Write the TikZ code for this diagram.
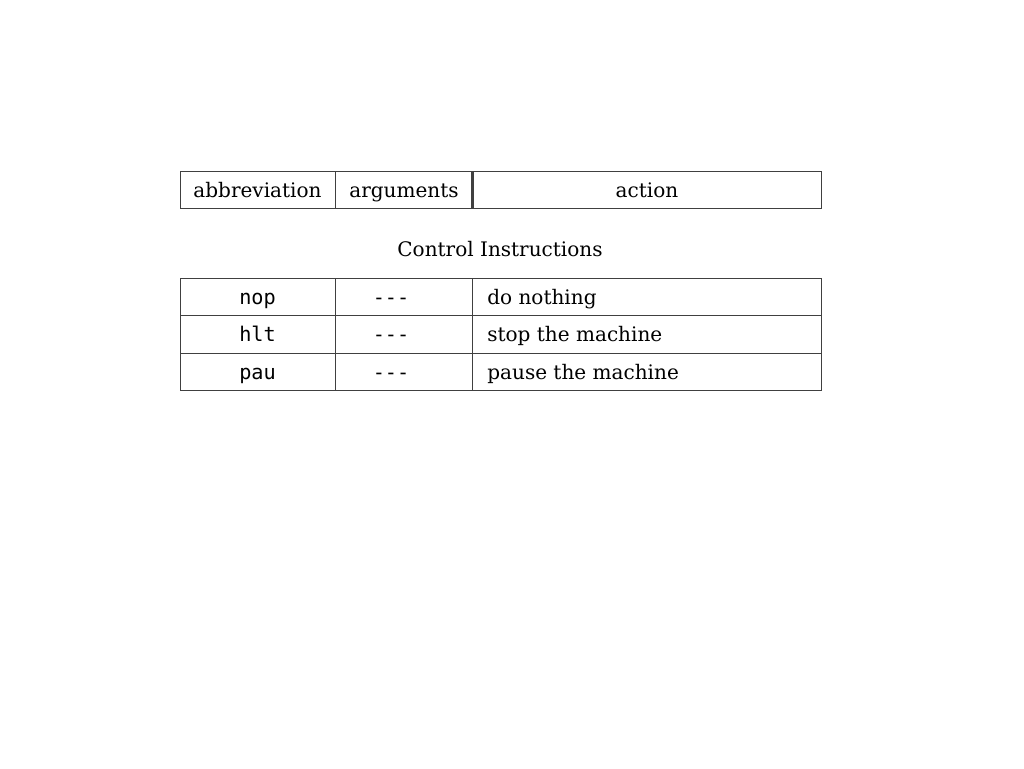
\documentclass[tikz,border=0pt]{standalone}
\usepackage{fontspec}
\setmainfont{DejaVu Serif}
\setmonofont{DejaVu Sans Mono}
\usepackage{tikz}

\begin{document}
\begin{tikzpicture}[x=0.02cm,y=-0.02cm,
    rule/.style={draw=black!75,line width=0.5pt},
    txt/.style={anchor=base,inner sep=0pt,font=\fontsize{11.4}{13}\selectfont},
    code/.style={anchor=base,inner sep=0pt,font=\fontsize{11.5}{13}\selectfont\ttfamily}]
            % page frame
            \useasboundingbox (0,0) rectangle (1024,768);
            % header table
            \draw[rule] (180,171) rectangle (821,208);
            \draw[rule] (335,171) -- (335,208);
            \draw[rule,line width=1.3pt] (472.5,171) -- (472.5,208);
            \node[txt] (abbr) at (257.5,197) {abbreviation};
            \node[txt] (args) at (404,197) {arguments};
            \node[txt] (action) at (647,197) {action};
            % caption
            \node[txt] (ctrl) at (500,256) {Control Instructions};
            % instruction table
            \draw[rule] (180,278) rectangle (821,390);
            \draw[rule] (180,315.5) -- (821,315.5);
            \draw[rule] (180,353) -- (821,353);
            \draw[rule] (335,278) -- (335,390);
            \draw[rule] (472,278) -- (472,390);
            % row: nop
            \node[code] (nop) at (257.5,304) {nop};
            \node[code] (nopargs) at (391,304) {-{}-{}-};
            \node[txt,anchor=base west] (nopact) at (487,304) {do nothing};
            % row: hlt
            \node[code] (hlt) at (257.5,341.5) {hlt};
            \node[code] (hltargs) at (391,341.5) {-{}-{}-};
            \node[txt,anchor=base west] (hltact) at (487,341.5) {stop the machine};
            % row: pau
            \node[code] (pau) at (257.5,379) {pau};
            \node[code] (pauargs) at (391,379) {-{}-{}-};
            \node[txt,anchor=base west] (pauact) at (487,379) {pause the machine};
          \end{tikzpicture}
\end{document}
